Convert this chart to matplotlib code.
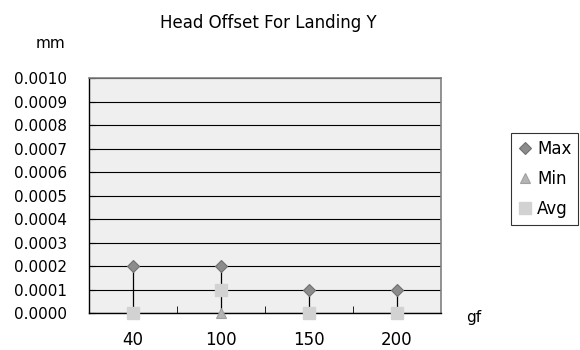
import matplotlib.pyplot as plt
import numpy as np

plt.rcParams['font.family'] = ['DejaVu Sans']

# dane
kategorie = ['40', '100', '150', '200']
max_val = [0.0002, 0.0002, 0.0001, 0.0001]
min_val = [0.0, 0.0, 0.0, 0.0]
avg_val = [0.0, 0.0001, 0.0, 0.0]

fig = plt.figure(figsize=(5.8, 3.5), dpi=100)
ax = fig.add_axes([0.1534, 0.1057, 0.607, 0.6714])
ax.set_facecolor('#efefef')

x = np.arange(len(kategorie))

# linie max-min
ax.vlines(x, min_val, max_val, color='black', lw=0.9, zorder=2)

ax.plot(x, max_val, ls='none', marker='D', ms=6, color='#8c8c8c', mec='#707070',
        mew=0.8, label='Max', zorder=4, clip_on=False)
ax.plot(x, min_val, ls='none', marker='^', ms=7, color='#b4b4b4', mec='#a0a0a0',
        mew=0.8, label='Min', zorder=3, clip_on=False)
ax.plot(x, avg_val, ls='none', marker='s', ms=8, color='#d2d2d2', mec='#d2d2d2',
        label='Avg', zorder=5, clip_on=False)

ax.set_xlim(-0.5, len(kategorie) - 0.5)
ax.set_ylim(0, 0.001)
ax.set_yticks(np.arange(0, 0.00101, 0.0001))
ax.set_yticklabels([f'{v:.4f}' for v in np.arange(0, 0.00101, 0.0001)], fontsize=11)
ax.yaxis.grid(True, color='black', lw=0.8)
ax.set_axisbelow(True)

ax.set_xticks(x)
ax.set_xticklabels(kategorie, fontsize=12)
ax.set_xticks(np.arange(0.5, len(kategorie) - 0.5), minor=True)
ax.tick_params(axis='x', which='major', length=0, pad=13)
ax.tick_params(axis='x', which='minor', direction='in', length=5)
ax.tick_params(axis='y', direction='in', length=4, pad=16)

for s in ['top', 'right']:
    ax.spines[s].set_color('#808080')
    ax.spines[s].set_linewidth(1.2)
for s in ['left', 'bottom']:
    ax.spines[s].set_color('black')
    ax.spines[s].set_linewidth(1.0)

fig.text(0.462, 0.935, 'Head Offset For Landing Y', ha='center', va='center', fontsize=12)
fig.text(0.087, 0.877, 'mm', ha='center', va='center', fontsize=11)
fig.text(0.817, 0.092, 'gf', ha='center', va='center', fontsize=11)

leg = ax.legend(loc='upper left', bbox_to_anchor=(1.2, 0.765), frameon=True,
                fancybox=False, edgecolor='black', fontsize=12, handlelength=0.8,
                handletextpad=0.35, labelspacing=0.72, borderpad=0.4,
                borderaxespad=0)
leg.get_frame().set_linewidth(0.8)

fig.savefig('out.png', dpi=100)
